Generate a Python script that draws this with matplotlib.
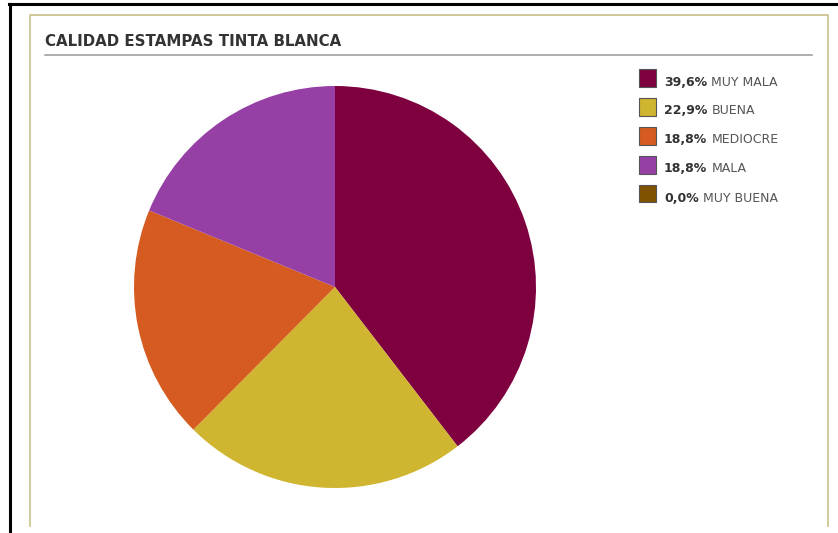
import matplotlib.pyplot as plt
from matplotlib.patches import Rectangle
from matplotlib.lines import Line2D

W, H = 838, 533

title = "CALIDAD ESTAMPAS TINTA BLANCA"
labels = ["MUY MALA", "BUENA", "MEDIOCRE", "MALA", "MUY BUENA"]
values = [39.6, 22.9, 18.8, 18.8, 0.0]
colors = ["#7f003f", "#cfb530", "#d55b20", "#9640a6", "#7f5200"]


def fx(px):
    return px / W


def fy(py):
    return 1 - py / H


fig = plt.figure(figsize=(W / 100, H / 100), dpi=100)
fig.patch.set_facecolor("white")

# outer black border (top and left) and beige panel
fig.add_artist(Line2D([fx(9), fx(W)], [fy(4), fy(4)], color="black", lw=2.2))
fig.add_artist(Line2D([fx(10), fx(10)], [fy(4), fy(H)], color="black", lw=2.2))
fig.add_artist(Line2D([fx(30), fx(30), fx(828), fx(828)],
                      [fy(526), fy(15), fy(15), fy(526)], color="#c8c08a", lw=1.2))

# title and underline
fig.text(fx(45), fy(46.5), title, fontsize=10.8, fontweight="bold", color="#333333",
         va="baseline", ha="left")
fig.add_artist(Line2D([fx(45), fx(812)], [fy(55), fy(55)], color="#999999", lw=1.1))

# pie
cx, cy, r = 335, 287, 201
ax = fig.add_axes([fx(cx - r), fy(cy + r), (2 * r) / W, (2 * r) / H])
ax.pie([v if v > 0 else 1e-9 for v in values], colors=colors, startangle=90,
       counterclock=False, radius=1, wedgeprops=dict(linewidth=0))
ax.set_xlim(-1, 1)
ax.set_ylim(-1, 1)
ax.set_aspect("auto")
ax.axis("off")

# legend
renderer = fig.canvas.get_renderer()
for i, (lab, val, col) in enumerate(zip(labels, values, colors)):
    top = 69 + i * 29
    fig.add_artist(Rectangle((fx(638.5), fy(top + 17.5)), 17.5 / W, 17.5 / H,
                             facecolor=col, edgecolor="#555555", lw=0.8,
                             transform=fig.transFigure))
    pct = f"{val:.1f}%".replace(".", ",")
    t = fig.text(fx(664), fy(top + 16.5), pct, fontsize=9, fontweight="bold",
                 color="#333333", va="baseline", ha="left")
    bb = t.get_window_extent(renderer)
    fig.text(fx(bb.x1 + 4), fy(top + 16.5), lab, fontsize=9, color="#555555",
             va="baseline", ha="left")

fig.savefig("out.png", dpi=100)
